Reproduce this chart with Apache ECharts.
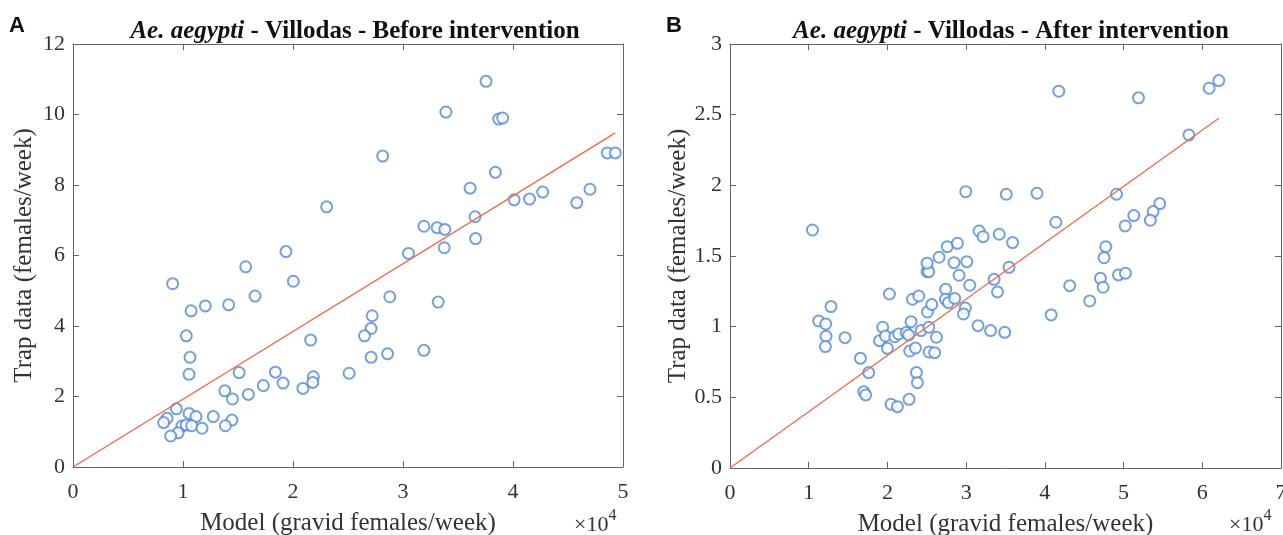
<!DOCTYPE html>
<html>
<head>
<meta charset="utf-8">
<script src="https://cdn.jsdelivr.net/npm/echarts@6/dist/echarts.min.js"></script>
<style>
  html, body { margin: 0; padding: 0; background: #fff; }
  #chart { width: 1283px; height: 535px; }
</style>
</head>
<body>
<div id="chart"></div>
<script>
  // Before intervention: model (gravid females/week) vs trap data (females/week)
  let modelBefore = [9060, 15700, 19360, 20030, 16550, 10730, 12030, 14150, 10300, 10640, 10550, 21600, 15100, 18400, 19100, 17300, 15940, 13800, 14500, 20900, 21850, 21800, 25100, 9400, 8550, 8240, 10550, 11180, 12750, 14450, 13850, 9900, 10300, 10790, 11730, 9550, 8880, 30500, 33750, 36600, 28800, 33200, 27200, 27100, 26500, 27100, 28600, 31900, 37550, 33900, 38700, 39060, 28150, 48570, 49300, 38400, 36100, 47000, 42700, 41500, 40100, 45800, 36550, 31900, 33100, 33800, 23060]
  let trapBefore = [5.20, 5.68, 6.11, 5.27, 4.85, 4.43, 4.57, 4.60, 3.72, 3.11, 2.63, 3.60, 2.68, 2.69, 2.38, 2.31, 2.06, 2.16, 1.93, 2.23, 2.56, 2.40, 2.66, 1.65, 1.38, 1.26, 1.52, 1.43, 1.43, 1.33, 1.17, 1.16, 1.19, 1.17, 1.10, 0.97, 0.88, 6.06, 6.22, 6.48, 4.83, 4.68, 4.29, 3.93, 3.72, 3.11, 3.21, 3.31, 10.94, 10.07, 9.87, 9.90, 8.82, 8.91, 8.91, 8.36, 7.91, 7.88, 7.80, 7.60, 7.58, 7.50, 7.10, 6.83, 6.79, 6.74, 7.38]
  let fitBeforeX = [0, 49300]
  let fitBeforeY = [0, 9.48]

  // After intervention
  let modelAfter = [10470, 29950, 35100, 31640, 32150, 34200, 27600, 28900, 41770, 51900, 60870, 62100, 58300, 39000, 49100, 41400, 35900, 54600, 53750, 51300, 53400, 50200, 47740, 11270, 12160, 12830, 12200, 12120, 14610, 16570, 17620, 17000, 17240, 20460, 21270, 22750, 23680, 23810, 20250, 19400, 19000, 19750, 20000, 20930, 21430, 22400, 22700, 23000, 22830, 23560, 24270, 25250, 25290, 26000, 26230, 23180, 23980, 25080, 25630, 25040, 25250, 25040, 26560, 28460, 30080, 29100, 30460, 27400, 27370, 27750, 28550, 29900, 29660, 31510, 33100, 34900, 33550, 33980, 35450, 47520, 47060, 47400, 49350, 50240, 43160, 45700, 40800]
  let trapAfter = [1.684, 1.955, 1.937, 1.677, 1.637, 1.654, 1.566, 1.59, 2.666, 2.619, 2.687, 2.741, 2.357, 1.944, 1.937, 1.739, 1.595, 1.871, 1.814, 1.786, 1.753, 1.713, 1.566, 1.040, 1.019, 1.142, 0.932, 0.859, 0.922, 0.776, 0.675, 0.540, 0.517, 0.451, 0.434, 0.486, 0.675, 0.604, 1.231, 0.996, 0.901, 0.934, 0.847, 0.929, 0.948, 0.958, 0.941, 1.035, 0.828, 0.849, 0.972, 0.996, 0.821, 0.816, 0.925, 1.194, 1.217, 1.104, 1.156, 1.389, 1.389, 1.449, 1.491, 1.453, 1.46, 1.364, 1.293, 1.265, 1.194, 1.17, 1.20, 1.132, 1.09, 1.007, 0.972, 0.96, 1.335, 1.246, 1.42, 1.488, 1.342, 1.279, 1.366, 1.378, 1.29, 1.182, 1.083]
  let fitAfterX = [0, 62100]
  let fitAfterY = [0, 2.475]

  let xTicksBefore = [0, 1, 2, 3, 4, 5]
  let xTicksAfter = [0, 1, 2, 3, 4, 5, 6, 7]

  const serif = '"Liberation Serif", "DejaVu Serif", serif'
  const axisColor = '#666'
  const dotColor = '#5189d4'
  const lineColor = '#f2674a'

  function zip(xs, ys) {
    return xs.map((x, i) => [x, ys[i]])
  }

  function xAxes(gi, max) {
    return [{
      type: 'value', gridIndex: gi, min: 0, max: max, interval: 10000,
      axisLine: { onZero: false, lineStyle: { color: axisColor } },
      axisTick: { inside: true, length: 6, lineStyle: { color: axisColor } },
      axisLabel: { color: '#333', fontFamily: serif, fontSize: 22, margin: 14,
        formatter: v => String(v / 10000) },
      splitLine: { show: false },
      name: 'Model (gravid females/week)', nameLocation: 'middle', nameGap: 44,
      nameTextStyle: { color: '#333', fontFamily: serif, fontSize: 25 }
    }, {
      type: 'value', gridIndex: gi, position: 'top', min: 0, max: max, interval: 10000,
      axisLine: { onZero: false, lineStyle: { color: axisColor } },
      axisTick: { inside: true, length: 6, lineStyle: { color: axisColor } },
      axisLabel: { show: false }, splitLine: { show: false }
    }]
  }

  function yAxes(gi, max, interval) {
    return [{
      type: 'value', gridIndex: gi, min: 0, max: max, interval: interval,
      axisLine: { show: true, onZero: false, lineStyle: { color: axisColor } },
      axisTick: { show: true, inside: true, length: 6, lineStyle: { color: axisColor } },
      axisLabel: { color: '#333', fontFamily: serif, fontSize: 22, margin: 8 },
      splitLine: { show: false },
      name: 'Trap data (females/week)', nameLocation: 'middle', nameGap: 36,
      nameTextStyle: { color: '#333', fontFamily: serif, fontSize: 25 }
    }, {
      type: 'value', gridIndex: gi, position: 'right', min: 0, max: max, interval: interval,
      axisLine: { show: true, onZero: false, lineStyle: { color: axisColor } },
      axisTick: { show: true, inside: true, length: 6, lineStyle: { color: axisColor } },
      axisLabel: { show: false }, splitLine: { show: false }
    }]
  }

  const titleRich = {
    i: { fontFamily: serif, fontSize: 25, fontStyle: 'italic', fontWeight: 'bold', color: '#111' },
    b: { fontFamily: serif, fontSize: 25, fontWeight: 'bold', color: '#111' }
  }
  const expRich = {
    a: { fontFamily: serif, fontSize: 22, fill: '#333', verticalAlign: 'bottom' },
    b: { fontFamily: serif, fontSize: 16, fill: '#333', verticalAlign: 'top', padding: [0, 0, 12, 0] }
  }

  let chart = echarts.init(document.getElementById('chart'))
  chart.setOption({
    backgroundColor: '#fff',
    animation: false,
    title: [{
      left: 350, top: 14, textAlign: 'center',
      text: '{i|Ae. aegypti}{b| - Villodas - Before intervention}',
      textStyle: { rich: titleRich }
    }, {
      left: 1006, top: 14, textAlign: 'center',
      text: '{i|Ae. aegypti}{b| - Villodas - After intervention}',
      textStyle: { rich: titleRich }
    }],
    graphic: [
      { type: 'text', left: 9, top: 15, style: { text: 'A', fontFamily: '"Liberation Sans", Arial, sans-serif', fontSize: 22, fontWeight: 'bold', fill: '#111' } },
      { type: 'text', left: 666, top: 15, style: { text: 'B', fontFamily: '"Liberation Sans", Arial, sans-serif', fontSize: 22, fontWeight: 'bold', fill: '#111' } },
      { type: 'text', left: 574, top: 508, style: { text: '{a|×10}{b|4}', rich: expRich } },
      { type: 'text', left: 1229, top: 508, style: { text: '{a|×10}{b|4}', rich: expRich } }
    ],
    grid: [
      { left: 73, top: 44, width: 550, height: 423, outerBoundsMode: 'none' },
      { left: 730, top: 44, width: 551, height: 424, outerBoundsMode: 'none' }
    ],
    xAxis: xAxes(0, xTicksBefore[xTicksBefore.length - 1] * 10000).concat(xAxes(1, xTicksAfter[xTicksAfter.length - 1] * 10000)),
    yAxis: yAxes(0, 12, 2).concat(yAxes(1, 3, 0.5)),
    series: [{
      type: 'scatter', xAxisIndex: 0, yAxisIndex: 0,
      data: zip(modelBefore, trapBefore),
      symbol: 'emptyCircle', symbolSize: 11,
      itemStyle: { color: dotColor, borderWidth: 1.3 }
    }, {
      type: 'line', xAxisIndex: 0, yAxisIndex: 0,
      data: zip(fitBeforeX, fitBeforeY), showSymbol: false,
      lineStyle: { color: lineColor, width: 1.3 }
    }, {
      type: 'scatter', xAxisIndex: 2, yAxisIndex: 2,
      data: zip(modelAfter, trapAfter),
      symbol: 'emptyCircle', symbolSize: 11,
      itemStyle: { color: dotColor, borderWidth: 1.3 }
    }, {
      type: 'line', xAxisIndex: 2, yAxisIndex: 2,
      data: zip(fitAfterX, fitAfterY), showSymbol: false,
      lineStyle: { color: lineColor, width: 1.3 }
    }]
  })
</script>
</body>
</html>
